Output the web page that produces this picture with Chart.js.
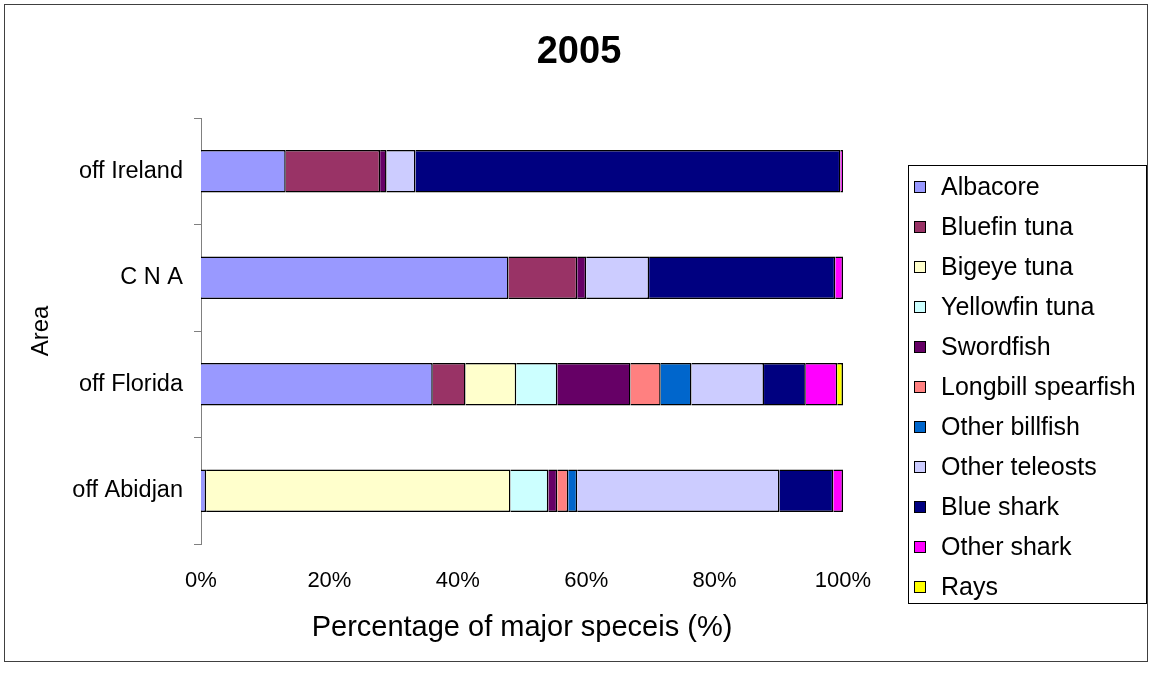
<!DOCTYPE html>
<html>
<head>
<meta charset="utf-8">
<title>2005</title>
<script src="https://cdn.jsdelivr.net/npm/chart.js@4"></script>
<style>
  html, body { margin: 0; padding: 0; background: #fff; }
  canvas { display: block; }
</style>
</head>
<body>
<canvas id="speciesChart" width="1152" height="673"></canvas>
<script>
// Share of each species in the catch, by area (percent)
const areas = ['off Ireland', 'C N A', 'off Florida', 'off Abidjan'];
const species = ['Albacore', 'Bluefin tuna', 'Bigeye tuna', 'Yellowfin tuna', 'Swordfish',
  'Longbill spearfish', 'Other billfish', 'Other teleosts', 'Blue shark', 'Other shark', 'Rays'];

const albacore      = [13.2, 47.9, 36.1, 0.8];
const bluefinTuna   = [14.7, 10.7, 5.1, 0];
const bigeyeTuna    = [0, 0, 7.9, 47.4];
const yellowfinTuna = [0, 0, 6.4, 5.9];
const swordfish     = [1.0, 1.4, 11.4, 1.4];
const longbill      = [0, 0, 4.7, 1.7];
const otherBillfish = [0, 0, 4.8, 1.4];
const otherTeleosts = [4.5, 9.8, 11.3, 31.5];
const blueShark     = [66.2, 29.0, 6.5, 8.4];
const otherShark    = [0.4, 1.2, 4.9, 1.5];
const rays          = [0, 0, 0.9, 0];

const xTicks = [0, 20, 40, 60, 80, 100];

const seriesValues = [albacore, bluefinTuna, bigeyeTuna, yellowfinTuna, swordfish,
  longbill, otherBillfish, otherTeleosts, blueShark, otherShark, rays];
const colors = ['#9999FF', '#993366', '#FFFFCC', '#CCFFFF', '#660066',
  '#FF8080', '#0066CC', '#CCCCFF', '#000080', '#FF00FF', '#FFFF00'];

const FONT = "'Liberation Sans', Arial, Helvetica, sans-serif";

// Outer frame, title and boxed legend
const decorations = {
  id: 'decorations',
  afterDraw(chart) {
    const ctx = chart.ctx;
    ctx.save();
    ctx.strokeStyle = '#404040';
    ctx.lineWidth = 1;
    ctx.strokeRect(4.5, 4.5, 1143, 657);

    ctx.fillStyle = '#000';
    ctx.font = 'bold 38px ' + FONT;
    ctx.textAlign = 'center';
    ctx.textBaseline = 'middle';
    ctx.fillText('2005', 579, 53);

    // legend box
    ctx.strokeStyle = '#000';
    ctx.strokeRect(908.5, 165.5, 238, 438);
    ctx.font = '25px ' + FONT;
    ctx.textAlign = 'left';
    chart.data.datasets.forEach((ds, i) => {
      const y = 187 + i * 40;
      ctx.fillStyle = ds.backgroundColor;
      ctx.fillRect(914, y - 6, 12, 12);
      ctx.strokeStyle = '#000';
      ctx.strokeRect(914.5, y - 5.5, 11, 11);
      ctx.fillStyle = '#000';
      ctx.fillText(ds.label, 941, y + 1);
    });
    ctx.restore();
  }
};

new Chart(document.getElementById('speciesChart'), {
  type: 'bar',
  data: {
    labels: areas,
    datasets: species.map((name, i) => ({
      label: name,
      data: seriesValues[i],
      backgroundColor: colors[i],
      borderColor: '#000',
      borderWidth: 1.5,
      barPercentage: 0.4,
      categoryPercentage: 1
    }))
  },
  options: {
    indexAxis: 'y',
    responsive: false,
    animation: false,
    layout: { padding: { left: 0, right: 309, top: 118, bottom: 0 } },
    plugins: {
      legend: { display: false },
      title: { display: false },
      tooltip: { enabled: false }
    },
    scales: {
      x: {
        stacked: true,
        min: 0,
        max: 100,
        afterFit(scale) { scale.height = 129; },
        afterBuildTicks(scale) { scale.ticks = xTicks.map(v => ({ value: v })); },
        grid: { display: false },
        border: { display: false },
        ticks: {
          color: '#000',
          padding: 16,
          font: { family: FONT, size: 22 },
          callback: v => v + '%'
        },
        title: {
          display: true,
          text: 'Percentage of major speceis (%)',
          color: '#000',
          font: { family: FONT, size: 29 },
          padding: { top: 0, bottom: 28 }
        }
      },
      y: {
        stacked: true,
        afterFit(scale) { scale.width = 201; },
        grid: {
          offset: true,
          drawOnChartArea: false,
          drawTicks: true,
          tickLength: 7,
          color: '#808080'
        },
        border: { display: true, color: '#808080', width: 1 },
        ticks: {
          color: '#000',
          padding: 11,
          font: { family: FONT, size: 23.5 }
        },
        title: {
          display: true,
          text: 'Area',
          color: '#000',
          font: { family: FONT, size: 24 },
          padding: { top: 27, bottom: 0 }
        }
      }
    }
  },
  plugins: [decorations]
});
</script>
</body>
</html>
